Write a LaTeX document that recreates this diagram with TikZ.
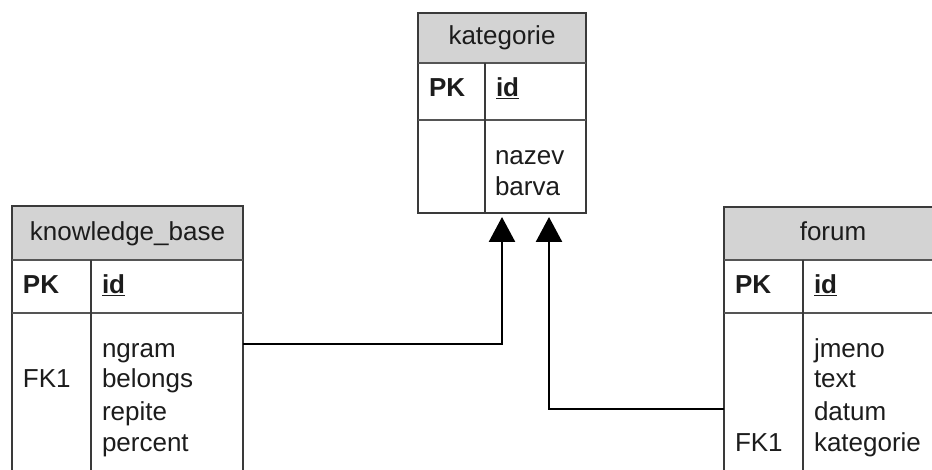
\documentclass[tikz,border=0pt]{standalone}
\usepackage{fontspec}
\setmainfont{Liberation Sans}
\usetikzlibrary{arrows.meta}
\definecolor{boxline}{HTML}{3A3A3A}
\definecolor{sepline}{HTML}{555555}
\definecolor{headfill}{HTML}{D3D3D3}
\definecolor{ink}{HTML}{1C1C1C}
\begin{document}
\begin{tikzpicture}[x=1pt,y=-1pt,
  every node/.style={inner sep=0pt, outer sep=0pt, text=ink,
    font=\fontsize{26}{31}\selectfont},
  headcell/.style={draw=boxline, line width=1.8pt, fill=headfill, anchor=north west},
  bodycell/.style={draw=boxline, line width=1.8pt, fill=white, anchor=north west},
  sep/.style={draw=sepline, line width=2.6pt},
  divider/.style={draw=boxline, line width=1.8pt},
  lbl/.style={anchor=base west},
  ttl/.style={anchor=base},
  keyfont/.style={font=\fontsize{26}{31}\selectfont\bfseries},
  conn/.style={draw=black, line width=2.6pt, -{Triangle[width=26pt,length=25pt]}}
]
\clip (0,0) rectangle (932,470);
\fill[white] (0,0) rectangle (932,470);

% ---- table: kategorie ----
\node[bodycell, minimum width=168pt, minimum height=200pt] (kat) at (418,13) {};
\node[headcell, minimum width=168pt, minimum height=50pt] (kat-head) at (418,13) {};
\node[ttl] (kat-title) at (502,45) {kategorie};
\draw[sep] (418,63) -- (586,63);
\draw[sep] (418,120) -- (586,120);
\draw[divider] (485,63) -- (485,213);
\node[lbl, keyfont] (kat-pk) at (429,97) {PK};
\node[lbl] (kat-id) at (496,97) {\underline{\textbf{id}}};
\node[lbl] (kat-a1) at (495,165) {nazev};
\node[lbl] (kat-a2) at (495,196) {barva};

% ---- table: knowledge_base ----
\node[bodycell, minimum width=231pt, minimum height=300pt] (kb) at (12,206) {};
\node[headcell, minimum width=231pt, minimum height=54pt] (kb-head) at (12,206) {};
\node[ttl] (kb-title) at (127.5,241) {knowledge\_base};
\draw[sep] (12,260) -- (243,260);
\draw[sep] (12,313) -- (243,313);
\draw[divider] (91,260) -- (91,506);
\node[lbl, keyfont] (kb-pk) at (23,294) {PK};
\node[lbl] (kb-id) at (102,294) {\underline{\textbf{id}}};
\node[lbl] (kb-fk) at (23,388) {FK1};
\node[lbl] (kb-a1) at (102,357) {ngram};
\node[lbl] (kb-a2) at (102,388) {belongs};
\node[lbl] (kb-a3) at (102,420) {repite};
\node[lbl] (kb-a4) at (102,451) {percent};

% ---- table: forum ----
\node[bodycell, minimum width=218pt, minimum height=300pt] (fo) at (724,207) {};
\node[headcell, minimum width=218pt, minimum height=53pt] (fo-head) at (724,207) {};
\node[ttl] (fo-title) at (833,241) {forum};
\draw[sep] (724,260) -- (942,260);
\draw[sep] (724,313) -- (942,313);
\draw[divider] (803,260) -- (803,507);
\node[lbl, keyfont] (fo-pk) at (735,294) {PK};
\node[lbl] (fo-id) at (814,294) {\underline{\textbf{id}}};
\node[lbl] (fo-fk) at (735,451) {FK1};
\node[lbl] (fo-a1) at (814,357) {jmeno};
\node[lbl] (fo-a2) at (814,388) {text};
\node[lbl] (fo-a3) at (814,420) {datum};
\node[lbl] (fo-a4) at (814,451) {kategorie};

% ---- relations (foreign keys to kategorie) ----
\coordinate (kb-out) at (243,344);
\coordinate (fo-out) at (724,409);
\coordinate (kat-in1) at (502,217);
\coordinate (kat-in2) at (549,217);
\draw[conn] (kb-out) -| (kat-in1);
\draw[conn] (fo-out) -| (kat-in2);
\end{tikzpicture}
\end{document}
